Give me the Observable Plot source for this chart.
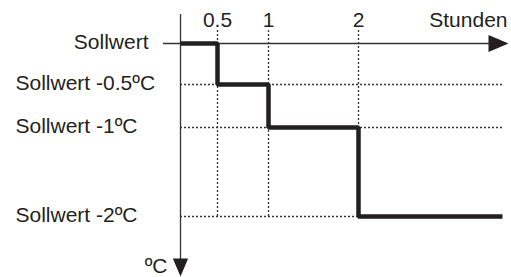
<!DOCTYPE html>
<html>
<head>
<meta charset="utf-8">
<script src="https://cdn.jsdelivr.net/npm/d3@7"></script>
<script src="https://cdn.jsdelivr.net/npm/@observablehq/plot@0.6"></script>
<style>
  html, body { margin: 0; padding: 0; background: #fff; }
</style>
</head>
<body>
<div id="chart"></div>
<script>
// Data
const stepHours = [0, 0.5, 1, 2];
const stepOffsets = [0, -0.5, -1, -2];
const endHour = 3.6;
const levelLabels = ["Sollwert", "Sollwert -0.5ºC", "Sollwert -1ºC", "Sollwert -2ºC"];
const tickHours = [0.5, 1, 2];
const tickLabels = ["0.5", "1", "2"];
const xAxisLabel = "Stunden";
const yAxisLabel = "ºC";

const linePts = stepHours.map((h, i) => ({h, v: stepOffsets[i]}))
  .concat([{h: endHour, v: stepOffsets[stepOffsets.length - 1]}]);
const levels = stepOffsets.map((v, i) => ({v, label: levelLabels[i]}));
const ticks = tickHours.map((h, i) => ({h, label: tickLabels[i]}));

// schematic (piecewise) scales, as in the original drawing
const hourScale = d3.scaleLinear().domain([0, 0.5, 1, 2]).range([180, 217, 268, 358]);
const offsetScale = d3.scaleLinear().domain([0, -0.5, -1, -2]).range([43, 84, 127, 216]);

const ink = "#231f20";
const font = "Liberation Sans, Arial, Helvetica, sans-serif";
const fs = 21;

const arrowRight = {draw(ctx, size) {
  const r = Math.sqrt(size / Math.PI);
  ctx.moveTo(r, 0); ctx.lineTo(-r, -0.85 * r); ctx.lineTo(-r, 0.85 * r); ctx.closePath();
}};
const arrowDown = {draw(ctx, size) {
  const r = Math.sqrt(size / Math.PI);
  ctx.moveTo(0, r); ctx.lineTo(-0.85 * r, -r); ctx.lineTo(0.85 * r, -r); ctx.closePath();
}};

const dotted = {stroke: "#333", strokeWidth: 1.3, strokeDasharray: "2,2"};

const chart = Plot.plot({
  width: 511,
  height: 277,
  marginLeft: 180,
  marginRight: 3,
  marginTop: 14,
  marginBottom: 1,
  style: {fontFamily: font, fontSize: fs + "px", background: "#fff", color: ink},
  x: {type: "identity", transform: hourScale, axis: null},
  y: {type: "identity", transform: offsetScale, axis: null},
  marks: [
    // dotted guides
    Plot.ruleY(levels.slice(1), {y: "v", x1: () => 0, x2: () => endHour, ...dotted}),
    Plot.ruleX(ticks, {x: "h", y1: () => 0, y2: () => stepOffsets[stepOffsets.length - 1], insetTop: -13, ...dotted}),
    // axes lines
    Plot.ruleY([0], {y: d => d, insetLeft: -17, insetRight: 18, stroke: "#333", strokeWidth: 1.3}),
    Plot.ruleX([0], {x: d => d, insetBottom: 14, stroke: "#333", strokeWidth: 1.3}),
    // arrowheads
    Plot.dot([0], {y: d => d, frameAnchor: "right", dx: -10, r: 10, symbol: arrowRight, fill: ink, stroke: "none"}),
    Plot.dot([0], {x: d => d, frameAnchor: "bottom", dy: -9, r: 9, symbol: arrowDown, fill: ink, stroke: "none"}),
    // step line
    Plot.line(linePts, {x: "h", y: "v", curve: "step-after", stroke: ink, strokeWidth: 4.5, strokeLinejoin: "miter", strokeLinecap: "butt"}),
    // tick labels
    Plot.text(ticks, {x: "h", y: () => 0, text: "label", dy: -23, textAnchor: "middle", fontSize: fs, fill: ink}),
    Plot.text([xAxisLabel], {y: () => 0, frameAnchor: "right", dx: -1, dy: -23, text: d => d, textAnchor: "end", fontSize: fs, fill: ink}),
    // level labels
    Plot.text(levels.slice(0, 1), {x: () => 0, y: "v", text: "label", dx: -32, dy: -1, textAnchor: "end", fontSize: fs, fill: ink}),
    Plot.text(levels.slice(1), {x: () => 0, y: "v", text: "label", dx: -165, dy: -1, textAnchor: "start", fontSize: fs, fill: ink}),
    // y axis label
    Plot.text([yAxisLabel], {x: () => 0, frameAnchor: "bottom", dx: -13, dy: -10, text: d => d, textAnchor: "end", lineAnchor: "middle", fontSize: fs, fill: ink})
  ]
});
document.getElementById("chart").appendChild(chart);
</script>
</body>
</html>
